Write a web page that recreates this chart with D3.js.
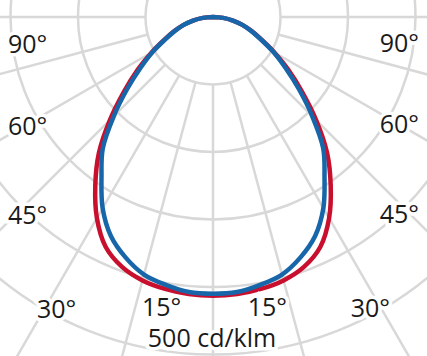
<!DOCTYPE html>
<html><head><meta charset="utf-8">
<script src="https://cdn.jsdelivr.net/npm/d3@7"></script>
<style>html,body{margin:0;padding:0;background:#fff;}svg{display:block;}</style>
</head><body>
<script>
// ---- data ----
const angles = [0,5,10,15,20,25,30,35,40,45,50,55,60,65,70,75,80,85,90]; // degrees from nadir
const redValues  = [413,412,409,404,394,376,344,304,263,216,172,136,105,79,61,45,30,15,0]; // cd/klm
const blueValues = [410,409,403,395,379,358,327,288,254,208,166,131,103,78,60,45,30,15,0]; // cd/klm
const ringValues = [100,200,300,400,500,600];
const spokeAngles = [-90,-75,-60,-45,-30,-15,0,15,30,45,60,75,90,105,120,135,150,165,180,195,210,225,240,255];
const labelTexts = ["90°","60°","45°","30°","15°","15°","30°","45°","60°","90°"];
const unitLabel = "500 cd/klm";

// ---- layout ----
const W = 427, H = 356, cx = 213, cy = 17;
const labelLayout = [
  {x:8,y:53,a:"start"},{x:8,y:135,a:"start"},{x:8,y:224,a:"start"},{x:37,y:318,a:"start"},{x:142,y:316,a:"start"},
  {x:287,y:316,a:"end"},{x:390,y:317,a:"end"},{x:419,y:223,a:"end"},{x:419,y:133,a:"end"},{x:419,y:52,a:"end"}
];

const r = d3.scaleLinear().domain([0,500]).range([0,337.5]);
const svg = d3.select("body").append("svg").attr("width",W).attr("height",H);
const g = svg.append("g").attr("transform",`translate(${cx},${cy})`);
const gridColor = "#d8d8d8";

g.selectAll("circle.ring").data(ringValues).join("circle")
  .attr("r",d=>r(d)).attr("fill","none").attr("stroke",gridColor).attr("stroke-width",2.5);

const rad = d=>d*Math.PI/180;
g.selectAll("line.spoke").data(spokeAngles).join("line")
  .attr("x1",d=>r(100)*Math.sin(rad(d))).attr("y1",d=>r(100)*Math.cos(rad(d)))
  .attr("x2",d=>r(700)*Math.sin(rad(d))).attr("y2",d=>r(700)*Math.cos(rad(d)))
  .attr("stroke",gridColor).attr("stroke-width",2.5);

function pts(vals){
  const p = [];
  for (let i=angles.length-1;i>=0;i--) p.push([Math.PI+rad(angles[i]), r(vals[i])]);
  for (let i=1;i<angles.length;i++) p.push([Math.PI-rad(angles[i]), r(vals[i])]);
  return p;
}
const line = d3.lineRadial().angle(d=>d[0]).radius(d=>d[1]).curve(d3.curveCatmullRomClosed);
g.append("path").attr("d",line(pts(redValues))).attr("fill","none").attr("stroke","#c8102e").attr("stroke-width",4.5);
g.append("path").attr("d",line(pts(blueValues))).attr("fill","none").attr("stroke","#1766a9").attr("stroke-width",4.5);

const font = "'Open Sans', sans-serif";
svg.selectAll("text.lab").data(labelTexts).join("text")
  .attr("x",(d,i)=>labelLayout[i].x).attr("y",(d,i)=>labelLayout[i].y)
  .attr("text-anchor",(d,i)=>labelLayout[i].a)
  .attr("font-family",font).attr("font-size",25).attr("fill","#1a1a1a")
  .attr("stroke","#fff").attr("stroke-width",7).attr("paint-order","stroke")
  .text(d=>d);
svg.append("text").attr("x",212).attr("y",347).attr("text-anchor","middle")
  .attr("font-family",font).attr("font-size",25).attr("fill","#1a1a1a")
  .attr("stroke","#fff").attr("stroke-width",7).attr("paint-order","stroke")
  .text(unitLabel);
</script>
</body></html>
